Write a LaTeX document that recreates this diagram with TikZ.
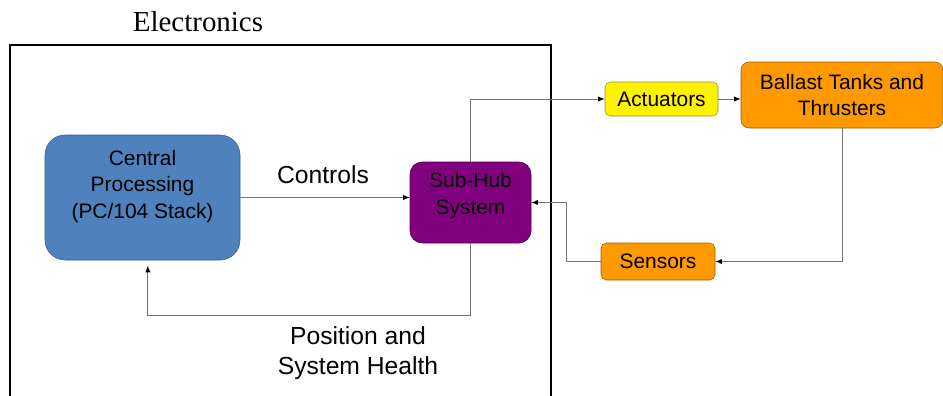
\documentclass[tikz,border=0pt]{standalone}
\usepackage{fontspec}
\setmainfont{Liberation Sans}
\newfontfamily\titlefont{Liberation Serif}
\usetikzlibrary{arrows.meta}
\definecolor{cpblue}{HTML}{4F81BD}
\definecolor{hubpurple}{HTML}{800080}
\definecolor{ballorange}{HTML}{FF9900}
\begin{document}
\begin{tikzpicture}[x=0.75pt,y=-0.75pt,
  blk/.style={draw, rounded corners=9pt, align=center, inner sep=2pt,
    font=\fontsize{15.7}{20}\selectfont},
  wire/.style={draw=black!55, line width=0.7pt, -{Latex[length=5pt,width=4pt,black]}},
  lbl/.style={align=center, font=\fontsize{18.5}{22}\selectfont}]
\useasboundingbox (0,0) rectangle (943,396);

% electronics enclosure
\node[font=\titlefont\fontsize{21.7}{24}\selectfont] (title) at (198,22) {Electronics};
\draw[line width=1pt] (10,400) -- (10,45) -- (551,45) -- (551,400);

% blocks
\node[blk, fill=cpblue, draw=cpblue!70!black, rounded corners=15pt,
  minimum width=146.25pt, minimum height=93.75pt] (cp) at (142.5,197.5)
  {Central\\Processing\\(PC/104 Stack)\\ };
\node[blk, fill=hubpurple, draw=hubpurple!70!black,
  minimum width=90.75pt, minimum height=60.75pt] (hub) at (470.5,202.5)
  {Sub-Hub\\System\\[-12pt]\strut};
\node[blk, fill=yellow, draw=yellow!50!black, rounded corners=4pt,
  minimum width=84.75pt, minimum height=25.5pt] (act) at (661.5,99) {Actuators};
\node[blk, fill=ballorange, draw=ballorange!60!black, rounded corners=6pt,
  minimum width=151.5pt, minimum height=49.5pt] (bal) at (842,95)
  {Ballast Tanks and\\Thrusters};
\node[blk, fill=ballorange, draw=ballorange!60!black, rounded corners=4pt,
  minimum width=85.5pt, minimum height=27.75pt] (sens) at (658,261.5) {Sensors};

% connectors
\draw[wire] (cp.east) -- (cp.east -| hub.west);
\draw[wire] (hub.north) |- (act.west);
\draw[wire] (act.east) -- (act.east -| bal.west);
\draw[wire] (bal.south) |- (sens.east);
\draw[wire] (sens.west) -- ++(-34,0) |- (hub.east);
\draw[wire] (hub.south) -- (hub.south |- 0,315) -| ([xshift=4pt,yshift=-4pt]cp.south);

% labels
\node[lbl] (ctrl) at (323,175) {Controls};
\node[lbl] (health) at (358,353) {Position and\\System Health};
\end{tikzpicture}
\end{document}
